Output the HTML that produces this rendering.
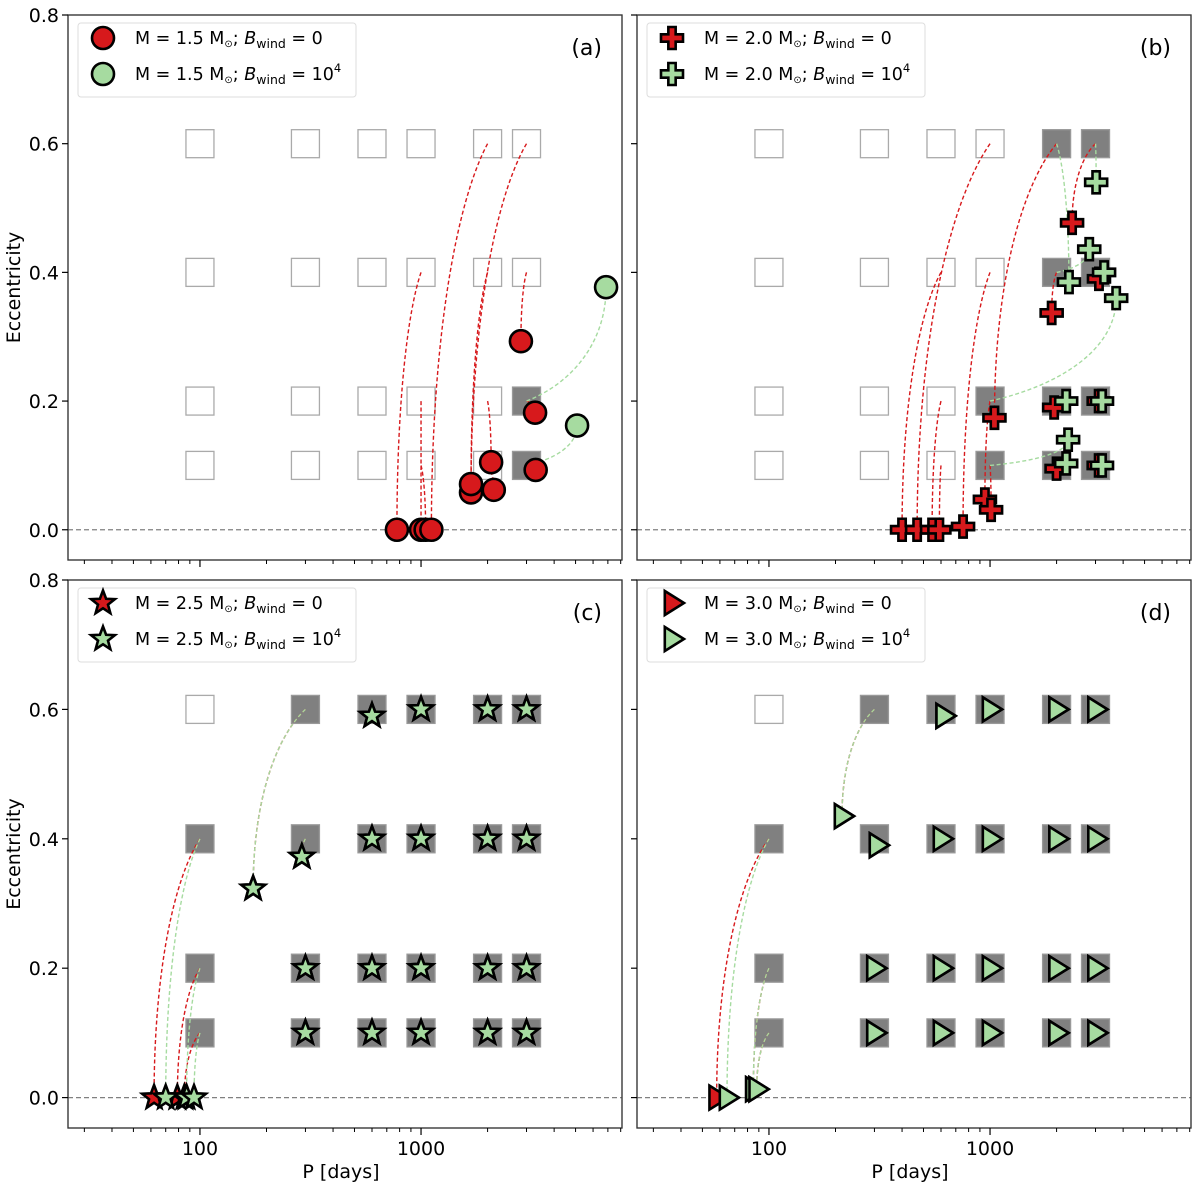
<!DOCTYPE html>
<html><head><meta charset="utf-8"><style>
body{margin:0;background:#fff}
svg text{font-family:"DejaVu Sans","Liberation Sans",sans-serif}
</style></head><body>
<svg id="fig" width="1200" height="1192" viewBox="0 0 1200 1192" xmlns="http://www.w3.org/2000/svg"></svg>
<script>
// ---- shared grid data ----
const gridP = [100, 300, 600, 1000, 2000, 3000];
const gridE = [0.1, 0.2, 0.4, 0.6];
const yTicks = [0.0, 0.2, 0.4, 0.6, 0.8];
const yTickLabels = ["0.0", "0.2", "0.4", "0.6", "0.8"];
const xMajor = [100, 1000];
const xMajorLabels = ["100", "1000"];
const xMinor = [30,40,50,60,70,80,90,200,300,400,500,600,700,800,900,2000,3000,4000,5000,6000,7000,8000];

// ---- panel (a) ----
const aFilled = [[3000,0.2],[3000,0.1]];
const aRedP = [778, 1000, 1049, 1114, 1683, 1683, 2075, 2133, 2830, 3280, 3300];
const aRedE = [0, 0, 0, 0, 0.058, 0.071, 0.105, 0.062, 0.293, 0.182, 0.093];
const aRedFromP = [1000, 1000, 1000, 2000, 3000, 2000, 2000, 2000, 3000, 3000, 3000];
const aRedFromE = [0.4, 0.2, 0.1, 0.6, 0.6, 0.4, 0.2, 0.1, 0.4, 0.2, 0.1];
const aGreenP = [6870, 5080];
const aGreenE = [0.377, 0.162];
const aGreenFromP = [3000, 3000];
const aGreenFromE = [0.2, 0.1];

// ---- panel (b) ----
const bFilled = [[1000,0.2],[1000,0.1],[2000,0.6],[3000,0.6],[2000,0.4],[3000,0.4],[2000,0.2],[3000,0.2],[2000,0.1],[3000,0.1]];
const bRedP = [400, 468, 547, 590, 755, 1047, 948, 1011, 2350, 1900, 3110, 1950, 2000, 3100, 3100];
const bRedE = [0, 0, 0, 0, 0.005, 0.174, 0.047, 0.031, 0.477, 0.337, 0.39, 0.19, 0.095, 0.2, 0.1];
const bRedFromP = [600, 1000, 600, 600, 1000, 2000, 1000, 1000, 3000, 2000, 3000, 2000, 2000, 3000, 3000];
const bRedFromE = [0.4, 0.6, 0.2, 0.1, 0.4, 0.6, 0.2, 0.1, 0.6, 0.4, 0.4, 0.2, 0.1, 0.2, 0.1];
const bGreenP = [3020, 2810, 2275, 3280, 3720, 2210, 3210, 2255, 2210, 3210];
const bGreenE = [0.54, 0.436, 0.385, 0.40, 0.36, 0.2, 0.2, 0.14, 0.103, 0.1];
const bGreenFromP = [3000, 2000, 2000, 3000, 1000, 2000, 3000, 1000, 2000, 3000];
const bGreenFromE = [0.6, 0.4, 0.6, 0.4, 0.2, 0.2, 0.2, 0.1, 0.1, 0.1];

// ---- panel (c) ----
const cFilled = [[300,0.6],[600,0.6],[1000,0.6],[2000,0.6],[3000,0.6],[100,0.4],[300,0.4],[600,0.4],[1000,0.4],[2000,0.4],[3000,0.4],[100,0.2],[300,0.2],[600,0.2],[1000,0.2],[2000,0.2],[3000,0.2],[100,0.1],[300,0.1],[600,0.1],[1000,0.1],[2000,0.1],[3000,0.1]];
const cRedP = [62, 79, 85, 174, 289, 600, 1000, 2000, 3000, 600, 1000, 2000, 3000, 300, 600, 1000, 2000, 3000, 300, 600, 1000, 2000, 3000];
const cRedE = [0, 0, 0, 0.323, 0.372, 0.59, 0.6, 0.6, 0.6, 0.4, 0.4, 0.4, 0.4, 0.2, 0.2, 0.2, 0.2, 0.2, 0.1, 0.1, 0.1, 0.1, 0.1];
const cRedFromP = [100, 100, 100, 300, 300, 600, 1000, 2000, 3000, 600, 1000, 2000, 3000, 300, 600, 1000, 2000, 3000, 300, 600, 1000, 2000, 3000];
const cRedFromE = [0.4, 0.2, 0.1, 0.6, 0.4, 0.6, 0.6, 0.6, 0.6, 0.4, 0.4, 0.4, 0.4, 0.2, 0.2, 0.2, 0.2, 0.2, 0.1, 0.1, 0.1, 0.1, 0.1];
const cGreenP = [70, 87, 94, 174, 289, 600, 1000, 2000, 3000, 600, 1000, 2000, 3000, 300, 600, 1000, 2000, 3000, 300, 600, 1000, 2000, 3000];
const cGreenE = [0, 0, 0, 0.323, 0.372, 0.59, 0.6, 0.6, 0.6, 0.4, 0.4, 0.4, 0.4, 0.2, 0.2, 0.2, 0.2, 0.2, 0.1, 0.1, 0.1, 0.1, 0.1];
const cGreenFromP = cRedFromP;
const cGreenFromE = cRedFromE;

// ---- panel (d) ----
const dFilled = cFilled;
const dRedP = [58, 85, 88, 214, 308, 617, 1000, 2000, 3000, 600, 1000, 2000, 3000, 300, 600, 1000, 2000, 3000, 300, 600, 1000, 2000, 3000];
const dRedE = [0, 0.013, 0.013, 0.435, 0.39, 0.59, 0.6, 0.6, 0.6, 0.4, 0.4, 0.4, 0.4, 0.2, 0.2, 0.2, 0.2, 0.2, 0.1, 0.1, 0.1, 0.1, 0.1];
const dRedFromP = [100, 100, 100, 300, 300, 600, 1000, 2000, 3000, 600, 1000, 2000, 3000, 300, 600, 1000, 2000, 3000, 300, 600, 1000, 2000, 3000];
const dRedFromE = [0.4, 0.2, 0.1, 0.6, 0.4, 0.6, 0.6, 0.6, 0.6, 0.4, 0.4, 0.4, 0.4, 0.2, 0.2, 0.2, 0.2, 0.2, 0.1, 0.1, 0.1, 0.1, 0.1];
const dGreenP = [64.6, 85, 88, 214, 308, 617, 1000, 2000, 3000, 600, 1000, 2000, 3000, 300, 600, 1000, 2000, 3000, 300, 600, 1000, 2000, 3000];
const dGreenE = [0, 0.013, 0.013, 0.435, 0.39, 0.59, 0.6, 0.6, 0.6, 0.4, 0.4, 0.4, 0.4, 0.2, 0.2, 0.2, 0.2, 0.2, 0.1, 0.1, 0.1, 0.1, 0.1];
const dGreenFromP = dRedFromP;
const dGreenFromE = dRedFromE;

const NS = "http://www.w3.org/2000/svg";
const fig = document.getElementById('fig');
function mk(tag, attrs, parent) {
  const e = document.createElementNS(NS, tag);
  for (const k in attrs) e.setAttribute(k, attrs[k]);
  (parent || fig).appendChild(e);
  return e;
}
const RED = "#d7191c", GREEN = "#a6dba0";
const xMin = Math.log10(25.3), xMax = Math.log10(8110), yMin = -0.047, yMax = 0.8;

function markerPath(kind, s) {
  if (kind === 'plus') {
    const a = s / 2, b = s / 6;
    return `M${-b},${-a}H${b}V${-b}H${a}V${b}H${b}V${a}H${-b}V${b}H${-a}V${-b}H${-b}Z`;
  }
  if (kind === 'star') {
    let d = ''; const R = s / 2, r = R * 0.42;
    for (let i = 0; i < 10; i++) {
      const ang = -Math.PI / 2 + i * Math.PI / 5, rr = i % 2 ? r : R;
      d += (i ? 'L' : 'M') + (rr * Math.cos(ang)).toFixed(2) + ',' + (rr * Math.sin(ang)).toFixed(2);
    }
    return d + 'Z';
  }
  if (kind === 'tri') {
    const a = s / 2;
    return `M${a},0L${-a * 0.6},${-a}L${-a * 0.6},${a}Z`;
  }
  return '';
}
function drawMarker(g, kind, cx, cy, color, name) {
  let el;
  if (kind === 'circle') {
    el = mk('circle', {cx: cx, cy: cy, r: 11, fill: color, stroke: '#000', 'stroke-width': 2.6}, g);
  } else {
    const s = kind === 'plus' ? 22 : kind === 'star' ? 25 : 24;
    el = mk('path', {d: markerPath(kind, s), transform: `translate(${cx},${cy})`, fill: color, stroke: '#000', 'stroke-width': 2.6, 'stroke-linejoin': 'miter'}, g);
  }
  
  
}

function panel(opt) {
  const {x0, y0, w, h, label, kind, mass, filled, redP, redE, redFromP, redFromE, greenP, greenE, greenFromP, greenFromE, showX, showY} = opt;
  const g = mk('g', {});
  
  
  const sx = p => x0 + (Math.log10(p) - xMin) / (xMax - xMin) * w;
  const sy = e => y0 + (yMax - e) / (yMax - yMin) * h;
  const frame = mk('rect', {x: x0, y: y0, width: w, height: h, fill: '#fff', stroke: '#333', 'stroke-width': 1.2}, g);
  
  
  const zl = mk('line', {x1: x0, x2: x0 + w, y1: sy(0), y2: sy(0), stroke: '#808080', 'stroke-width': 1.2, 'stroke-dasharray': '5,3'}, g);
  
  
  const isFilled = (p, e) => filled.some(f => f[0] === p && f[1] === e);
  gridP.forEach(p => gridE.forEach(e => {
    const f = isFilled(p, e);
    const r = mk('rect', {x: sx(p) - 14, y: sy(e) - 14, width: 28, height: 28, fill: f ? '#808080' : '#fff', stroke: f ? '#999' : '#aaa', 'stroke-width': 1.3}, g);
    
    
  }));
  function track(P0, E0, P1, E1, color, nm) {
    const xa = sx(P0), ya = sy(E0), xb = sx(P1), yb = sy(E1);
    const c1x = xa + (xb - xa) * 0.55, c1y = ya + (yb - ya) * 0.15;
    const c2x = xb, c2y = yb - (yb - ya) * 0.5;
    const t = mk('path', {d: `M${xa},${ya}C${c1x},${c1y} ${c2x},${c2y} ${xb},${yb}`, fill: 'none', stroke: color, 'stroke-width': 1.4, 'stroke-dasharray': '4,2.5'}, g);
    
    
  }
  redP.forEach((p, i) => track(redFromP[i], redFromE[i], p, redE[i], RED, 'red-track'));
  greenP.forEach((p, i) => track(greenFromP[i], greenFromE[i], p, greenE[i], GREEN, 'green-track'));
  redP.forEach((p, i) => drawMarker(g, kind, sx(p), sy(redE[i]), RED, 'red-marker'));
  greenP.forEach((p, i) => drawMarker(g, kind, sx(p), sy(greenE[i]), GREEN, 'green-marker'));
  mk('rect', {x: x0, y: y0, width: w, height: h, fill: 'none', stroke: '#333', 'stroke-width': 1.2}, g);
  yTicks.forEach((v, i) => {
    mk('line', {x1: x0 - 6, x2: x0, y1: sy(v), y2: sy(v), stroke: '#000', 'stroke-width': 1.2}, g);
    if (showY) {
      const t = mk('text', {x: x0 - 9, y: sy(v) + 7, 'text-anchor': 'end', 'font-size': 19}, g);
      t.textContent = yTickLabels[i];
      
      
    }
  });
  if (showY) {
    const yt = mk('text', {x: 0, y: 0, 'text-anchor': 'middle', 'font-size': 19, transform: `translate(20,${y0 + h / 2}) rotate(-90)`}, g);
    yt.textContent = 'Eccentricity';
    
    
  }
  xMinor.forEach(p => mk('line', {x1: sx(p), x2: sx(p), y1: y0 + h, y2: y0 + h + 4, stroke: '#000', 'stroke-width': 1}, g));
  xMajor.forEach((p, i) => {
    mk('line', {x1: sx(p), x2: sx(p), y1: y0 + h, y2: y0 + h + 7, stroke: '#000', 'stroke-width': 1.2}, g);
    if (showX) {
      const t = mk('text', {x: sx(p), y: y0 + h + 27, 'text-anchor': 'middle', 'font-size': 19}, g);
      t.textContent = xMajorLabels[i];
      
      
    }
  });
  if (showX) {
    const xt = mk('text', {x: x0 + w / 2 - 4, y: y0 + h + 50, 'text-anchor': 'middle', 'font-size': 19}, g);
    xt.textContent = 'P [days]';
    
    
  }
  const pl = mk('text', {x: x0 + w - 20, y: y0 + 40, 'text-anchor': 'end', 'font-size': 22}, g);
  pl.textContent = '(' + label + ')';
  
  
  const lg = mk('g', {}, g);
  
  
  mk('rect', {x: x0 + 10, y: y0 + 8, width: 278, height: 74, rx: 3, fill: '#fff', 'fill-opacity': 0.85, stroke: '#ddd', 'stroke-width': 1}, lg);
  [[RED, '0', false], [GREEN, '10', true]].forEach((row, i) => {
    const cy = y0 + 23 + i * 36;
    drawMarker(lg, kind, x0 + 35, cy, row[0], 'legend-marker');
    const t = mk('text', {x: x0 + 67, y: cy + 6, 'font-size': 17.5, 'xml:space': 'preserve'}, lg);
    
    
    t.innerHTML = `M = ${mass} M<tspan font-size="10" dy="3">⊙</tspan><tspan dy="-3">;  </tspan><tspan font-style="italic">B</tspan><tspan font-size="12.5" dy="4">wind</tspan><tspan dy="-4"> = ${row[1]}</tspan>` + (row[2] ? '<tspan font-size="11.5" dy="-8">4</tspan>' : '');
  });
}

panel({x0: 68, y0: 15, w: 554, h: 545, label: 'a', kind: 'circle', mass: '1.5', filled: aFilled,
  redP: aRedP, redE: aRedE, redFromP: aRedFromP, redFromE: aRedFromE,
  greenP: aGreenP, greenE: aGreenE, greenFromP: aGreenFromP, greenFromE: aGreenFromE, showX: false, showY: true});
panel({x0: 637, y0: 15, w: 554, h: 545, label: 'b', kind: 'plus', mass: '2.0', filled: bFilled,
  redP: bRedP, redE: bRedE, redFromP: bRedFromP, redFromE: bRedFromE,
  greenP: bGreenP, greenE: bGreenE, greenFromP: bGreenFromP, greenFromE: bGreenFromE, showX: false, showY: false});
panel({x0: 68, y0: 580, w: 554, h: 548, label: 'c', kind: 'star', mass: '2.5', filled: cFilled,
  redP: cRedP, redE: cRedE, redFromP: cRedFromP, redFromE: cRedFromE,
  greenP: cGreenP, greenE: cGreenE, greenFromP: cGreenFromP, greenFromE: cGreenFromE, showX: true, showY: true});
panel({x0: 637, y0: 580, w: 554, h: 548, label: 'd', kind: 'tri', mass: '3.0', filled: dFilled,
  redP: dRedP, redE: dRedE, redFromP: dRedFromP, redFromE: dRedFromE,
  greenP: dGreenP, greenE: dGreenE, greenFromP: dGreenFromP, greenFromE: dGreenFromE, showX: true, showY: false});
</script>
</body></html>
